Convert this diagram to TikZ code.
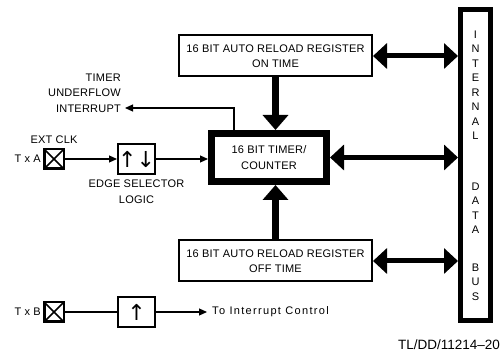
\documentclass[tikz,border=0pt]{standalone}
\usepackage{fontspec}
\setmainfont{Liberation Sans}[LetterSpace=2]
\newfontfamily\symfont{DejaVu Sans}
\usetikzlibrary{arrows.meta,positioning,calc}

\begin{document}
\begin{tikzpicture}
 [
  x=1pt, y=-1pt,
  every node/.style={font=\fontsize{11}{15.5}\selectfont, inner sep=0pt},
  reg/.style={draw, line width=2pt, minimum width=193pt, minimum height=41pt, align=center},
  timerbox/.style={draw, line width=7pt, minimum width=115pt, minimum height=48pt, align=center},
  busbox/.style={draw, line width=5pt, minimum width=30pt, minimum height=311pt},
  logic/.style={draw, line width=2pt, minimum width=37pt, minimum height=30pt, font=\symfont\fontsize{22}{22}\selectfont},
  pad/.style={draw, line width=2.5pt, minimum size=19.5pt,
    path picture={\draw[line width=1.5pt] (path picture bounding box.north west) -- (path picture bounding box.south east)
                  (path picture bounding box.north east) -- (path picture bounding box.south west);}},
  busletters/.style={align=center, font=\fontsize{11}{14.5}\selectfont},
  busarrow/.style={line width=5pt, {Triangle[width=25pt,length=14pt]}-{Triangle[width=25pt,length=14pt]}},
  feed/.style={line width=7pt, -{Triangle[width=25pt,length=15pt]}},
  sig/.style={line width=1.2pt, -{Triangle[width=7pt,length=8pt]}},
  wire/.style={line width=1.2pt},
 ]
  \useasboundingbox (0,0) rectangle (504,352);

  % registers, counter and bus
  \node [reg] (onreg) at (275.5,56) {16 BIT AUTO RELOAD REGISTER\\ON TIME};
  \node [timerbox] (timer) at (269,157.5) {16 BIT TIMER/\\COUNTER};
  \node [reg] (offreg) at (275.5,261) {16 BIT AUTO RELOAD REGISTER\\OFF TIME};
  \node [busbox] (bus) at (475.5,165) {};
  \node [busletters] (busa) at (475.5,85) {I\\N\\T\\E\\R\\N\\A\\L};
  \node [busletters] (busb) at (475.5,208) {D\\A\\T\\A};
  \node [busletters] (busc) at (475.5,282) {B\\U\\S};

  \draw [busarrow] (onreg.east) -- (onreg.east -| bus.west);
  \draw [busarrow] (timer.east) -- (timer.east -| bus.west);
  \draw [busarrow] (offreg.east) -- (offreg.east -| bus.west);
  \draw [feed] (onreg.south) -- (onreg.south |- timer.north);
  \draw [feed] (offreg.north) -- (offreg.north |- timer.south);

  % underflow output
  \node [align=right, anchor=east] (ufl) at (121,93) {TIMER\\UNDERFLOW\\INTERRUPT};
  \coordinate (uftip) at (125,108);
  \draw [sig] ([xshift=26pt]timer.north west) |- (uftip);

  % T x A input
  \node [pad] (padA) at (54,159) {};
  \node [left=2pt of padA] (txa) {T x A};
  \node [above=4pt of padA] (extclk) {EXT CLK};
  \node [logic] (esel) at (136.5,159) {↑↓};
  \node [below=5pt of esel, align=center] (esell) {EDGE SELECTOR\\LOGIC};
  \draw [sig] (padA) -- (esel);
  \draw [sig] (esel.east) -- (esel.east -| timer.west);

  % T x B input
  \node [pad] (padB) at (54,312) {};
  \node [left=2pt of padB] (txb) {T x B};
  \node [logic] (rise) at (136.5,312) {↑};
  \node [anchor=west, font=\fontsize{11}{14}\selectfont\addfontfeature{LetterSpace=12}] (intc) at (212,312) {To Interrupt Control};
  \draw [wire] (padB) -- (rise);
  \draw [sig] (rise) -- ([xshift=-5pt]intc.west);

  \node [font=\fontsize{13.5}{14}\selectfont\addfontfeature{LetterSpace=0}] (tl) at (449,345) {TL/DD/11214–20};
\end{tikzpicture}
\end{document}
